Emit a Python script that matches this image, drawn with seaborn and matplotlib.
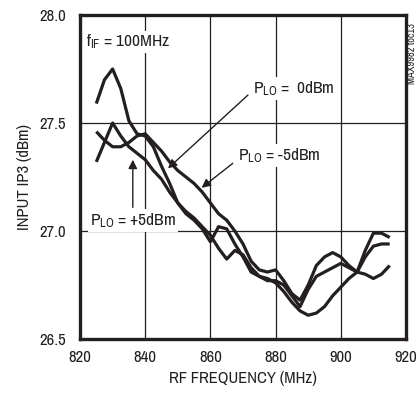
import numpy as np
import pandas as pd
import seaborn as sns
import matplotlib.pyplot as plt
from matplotlib import font_manager

# RF frequency grid (MHz) shared by all three curves
freq = [825, 827.5, 830, 832.5, 835, 837.5, 840, 842.5, 845, 847.5,
        850, 852.5, 855, 857.5, 860, 862.5, 865, 867.5, 870, 872.5,
        875, 877.5, 880, 882.5, 885, 887.5, 890, 892.5, 895, 897.5,
        900, 902.5, 905, 907.5, 910, 912.5, 915]

# input IP3 (dBm)
ip3_a = [27.59, 27.70, 27.75, 27.66, 27.51, 27.45, 27.44, 27.39, 27.30, 27.22,
         27.13, 27.08, 27.05, 27.01, 26.95, 27.02, 27.01, 26.94, 26.88, 26.81,
         26.79, 26.77, 26.77, 26.75, 26.70, 26.65, 26.73, 26.79, 26.81, 26.83,
         26.85, 26.83, 26.81, 26.88, 26.93, 26.94, 26.94]
ip3_b = [27.46, 27.42, 27.39, 27.39, 27.41, 27.44, 27.45, 27.41, 27.37, 27.32,
         27.28, 27.25, 27.22, 27.18, 27.13, 27.08, 27.05, 27.00, 26.94, 26.86,
         26.82, 26.81, 26.82, 26.77, 26.71, 26.68, 26.75, 26.84, 26.88, 26.90,
         26.88, 26.84, 26.81, 26.91, 26.99, 26.99, 26.97]
ip3_c = [27.32, 27.41, 27.50, 27.44, 27.39, 27.36, 27.33, 27.28, 27.24, 27.18,
         27.13, 27.09, 27.06, 27.02, 26.98, 26.92, 26.87, 26.91, 26.89, 26.83,
         26.79, 26.78, 26.76, 26.72, 26.67, 26.63, 26.61, 26.62, 26.65, 26.70,
         26.74, 26.78, 26.81, 26.80, 26.78, 26.80, 26.84]

series_names = ["0dBm", "-5dBm", "+5dBm"]

df = pd.concat([
    pd.DataFrame({"freq": freq, "ip3": vals, "plo": name})
    for name, vals in zip(series_names, [ip3_a, ip3_b, ip3_c])
])

# pick a narrow sans if one is around, the original uses Helvetica Narrow
installed = set(f.name for f in font_manager.fontManager.ttflist)
wanted = ['Nimbus Sans Narrow', 'Archivo Narrow', 'PT Sans Narrow',
          'Roboto Condensed', 'Arimo', 'Liberation Sans', 'DejaVu Sans']
font = next(f for f in wanted if f in installed or f == 'DejaVu Sans')

sns.set_theme(style="white")
plt.rcParams['font.family'] = [font, 'DejaVu Sans']
plt.rcParams['mathtext.fontset'] = 'custom'
plt.rcParams['mathtext.rm'] = font
plt.rcParams['mathtext.it'] = font

ink = '#231f20'
fs = 12       # ticks and axis titles
fs_note = 12.5  # labels inside the plot

fig = plt.figure(figsize=(4.19, 3.99), dpi=100)
ax = fig.add_axes([80 / 419, 1 - 339 / 399, 326 / 419, 324 / 399])

sns.lineplot(data=df, x="freq", y="ip3", hue="plo",
             palette=[ink] * 3, linewidth=2.3, legend=False, ax=ax,
             zorder=3, solid_joinstyle='round', solid_capstyle='butt')

ax.set_xlim(820, 920)
ax.set_ylim(26.5, 28.0)
ax.set_xticks([820, 840, 860, 880, 900, 920])
ax.set_yticks([26.5, 27.0, 27.5, 28.0])
ax.set_yticklabels(["26.5", "27.0", "27.5", "28.0"])
ax.grid(True, color=ink, linewidth=0.9)
ax.tick_params(axis='x', length=0, labelsize=fs, colors=ink, pad=8)
ax.tick_params(axis='y', length=0, labelsize=fs, colors=ink, pad=10)
for s in ax.spines.values():
    s.set_linewidth(2.4)
    s.set_color(ink)
    s.set_zorder(5)

ax.set_xlabel("RF FREQUENCY (MHz)", fontsize=fs, color=ink, labelpad=4)
ax.set_ylabel("INPUT IP3 (dBm)", fontsize=fs, color=ink, labelpad=5)

box = dict(facecolor='white', edgecolor='none', pad=1.5)
ax.text(821.8, 27.875, r"f$_{\rm IF}$ = 100MHz", fontsize=fs_note, color=ink,
        va='center', ha='left', bbox=box, zorder=2)

arrow = dict(arrowstyle='-|>', color=ink, lw=1.0, mutation_scale=13,
             shrinkA=3, shrinkB=0)
ax.annotate(r"P$_{\rm LO}$ =  0dBm", xy=(847.0, 27.29), xytext=(873.1, 27.66),
            fontsize=fs_note, color=ink, ha='left', va='center', bbox=box,
            arrowprops=dict(arrow, relpos=(0.0, 0.4)), zorder=4)
ax.annotate(r"P$_{\rm LO}$ = -5dBm", xy=(857.3, 27.20), xytext=(868.5, 27.35),
            fontsize=fs_note, color=ink, ha='left', va='center', bbox=box,
            arrowprops=dict(arrow, relpos=(0.0, 0.3)), zorder=4)
ax.annotate(r"P$_{\rm LO}$ = +5dBm", xy=(836.2, 27.33), xytext=(836.2, 27.05),
            fontsize=fs_note, color=ink, ha='center', va='center', bbox=box,
            arrowprops=dict(arrow, relpos=(0.5, 1.0), shrinkA=1), zorder=4)

# small figure id down the right edge
fig.text(412 / 419, 1 - 54 / 399, "MAX9982 toc13", rotation=90,
         fontsize=7.5, color=ink, ha='center', va='center')

plt.savefig("out.png", dpi=100)
